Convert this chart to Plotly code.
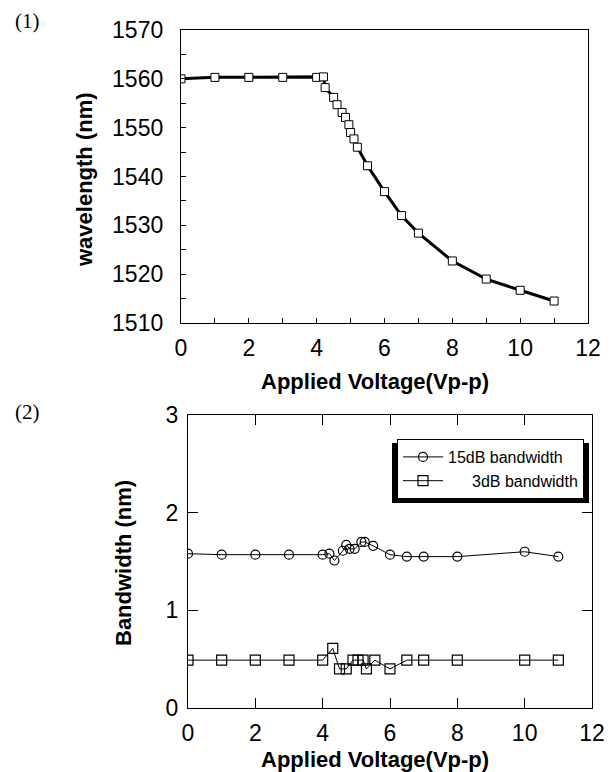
import plotly.graph_objects as go

# ---- data ----
voltage_wl = [0, 1, 2, 3, 4, 4.2, 4.25, 4.5, 4.6, 4.75, 4.85, 4.95, 5.0, 5.1, 5.2,
              5.5, 6.0, 6.5, 7, 8, 9, 10, 11]
wavelength = [1560.0, 1560.3, 1560.3, 1560.3, 1560.3, 1560.4, 1558.2, 1556.2, 1554.7,
              1553.1, 1552.1, 1550.6, 1549.0, 1547.7, 1546.0, 1542.2, 1536.9, 1532.0,
              1528.4, 1522.7, 1519.0, 1516.7, 1514.5]

voltage_15 = [0, 1, 2, 3, 4, 4.2, 4.35, 4.6, 4.7, 4.8, 4.95, 5.15, 5.25, 5.5, 6,
              6.5, 7, 8, 10, 11]
bw_15 = [1.58, 1.57, 1.57, 1.57, 1.57, 1.58, 1.51, 1.61, 1.67, 1.63, 1.63, 1.70,
         1.70, 1.66, 1.57, 1.55, 1.55, 1.55, 1.60, 1.55]

voltage_3 = [0, 1, 2, 3, 4, 4.3, 4.5, 4.7, 4.9, 5.05, 5.2, 5.3, 5.55, 6, 6.5, 7,
             8, 10, 11]
bw_3 = [0.49, 0.49, 0.49, 0.49, 0.49, 0.61, 0.40, 0.40, 0.49, 0.49, 0.49, 0.40,
        0.49, 0.40, 0.49, 0.49, 0.49, 0.49, 0.49]

x_ticks = [0, 2, 4, 6, 8, 10, 12]
wl_ticks = [1510, 1520, 1530, 1540, 1550, 1560, 1570]
bw_ticks = [0, 1, 2, 3]

W, H = 612, 772
FONT = "Liberation Sans, Arial, sans-serif"


def px(x):
    return x / W


def py(y):
    return 1 - y / H


fig = go.Figure()

fig.add_trace(go.Scatter(
    x=voltage_wl, y=wavelength, mode="lines+markers",
    line=dict(color="black", width=3),
    marker=dict(symbol="square", size=8, color="white",
                line=dict(color="black", width=1)),
    showlegend=False, xaxis="x", yaxis="y"))

fig.add_trace(go.Scatter(
    x=voltage_15, y=bw_15, mode="lines+markers", name="15dB bandwidth",
    line=dict(color="black", width=1),
    marker=dict(symbol="circle-open", size=9, color="black",
                line=dict(color="black", width=1.2)),
    xaxis="x2", yaxis="y2"))

fig.add_trace(go.Scatter(
    x=voltage_3, y=bw_3, mode="lines+markers", name="\u2002\u2002\u20023dB bandwidth",
    line=dict(color="black", width=1),
    marker=dict(symbol="square-open", size=10, color="black",
                line=dict(color="black", width=1.2)),
    xaxis="x2", yaxis="y2"))

axis_common = dict(showgrid=False, zeroline=False, showline=True, linecolor="black",
                   linewidth=1.3, tickcolor="black", ticks="inside",
                   tickfont=dict(family=FONT, size=23, color="black"),
                   automargin=False)

fig.update_layout(
    width=W, height=H,
    margin=dict(l=0, r=0, t=0, b=0),
    paper_bgcolor="white", plot_bgcolor="white",
    xaxis=dict(domain=[px(181), px(588)], range=[0, 12], tickvals=x_ticks,
               ticklen=5, tickwidth=1, mirror=True, anchor="y",
               minor=dict(ticks="inside", dtick=1, ticklen=5, tickcolor="black"),
               ticklabelstandoff=4,
               **axis_common),
    yaxis=dict(domain=[py(323), py(30)], range=[1510, 1570], tickvals=wl_ticks,
               ticklen=5, tickwidth=1, mirror=True, anchor="x",
               minor=dict(ticks="inside", dtick=5, ticklen=5, tickcolor="black"),
               ticklabelstandoff=12,
               **axis_common),
    xaxis2=dict(domain=[px(188), px(592)], range=[0, 12], tickvals=x_ticks,
                ticklen=10, tickwidth=1, mirror="ticks", anchor="y2",
                ticklabelstandoff=4,
                **axis_common),
    yaxis2=dict(domain=[py(708), py(415)], range=[0, 3], tickvals=bw_ticks,
                ticklen=10, tickwidth=1, mirror="ticks", anchor="x2",
                ticklabelstandoff=4,
                **axis_common),
    legend=dict(x=px(584), xanchor="right", y=py(439), yanchor="top",
                bgcolor="white", bordercolor="black", borderwidth=1,
                font=dict(family=FONT, size=16, color="black"),
                itemwidth=40),
    shapes=[dict(type="rect", xref="paper", yref="paper",
                 x0=px(392), x1=px(589), y0=py(503), y1=py(443),
                 fillcolor="black", line=dict(width=0), layer="below")],
)

annos = [
    dict(text="<b>wavelength (nm)</b>", x=px(85), y=py(180), textangle=-90, size=22),
    dict(text="<b>Applied Voltage(Vp-p)</b>", x=px(375), y=py(381), textangle=0, size=22),
    dict(text="<b>Bandwidth (nm)</b>", x=px(123), y=py(563), textangle=-90, size=22),
    dict(text="<b>Applied Voltage(Vp-p)</b>", x=px(375), y=py(759), textangle=0, size=22),
]
for a in annos:
    fig.add_annotation(text=a["text"], x=a["x"], y=a["y"], xref="paper", yref="paper",
                       showarrow=False, textangle=a["textangle"],
                       xanchor="center", yanchor="middle",
                       font=dict(family=FONT, size=a["size"], color="black"))

for lab, (xx, yy) in [("(1)", (27, 21)), ("(2)", (27, 412))]:
    fig.add_annotation(text=lab, x=px(xx), y=py(yy), xref="paper", yref="paper",
                       showarrow=False, xanchor="center", yanchor="middle",
                       font=dict(family="Liberation Serif, DejaVu Serif, serif",
                                 size=21, color="black"))

fig.write_html("out.html",
               config=dict(displayModeBar=False),
               post_script="document.body.style.margin='0px';"
                           "document.body.style.overflow='hidden';")
